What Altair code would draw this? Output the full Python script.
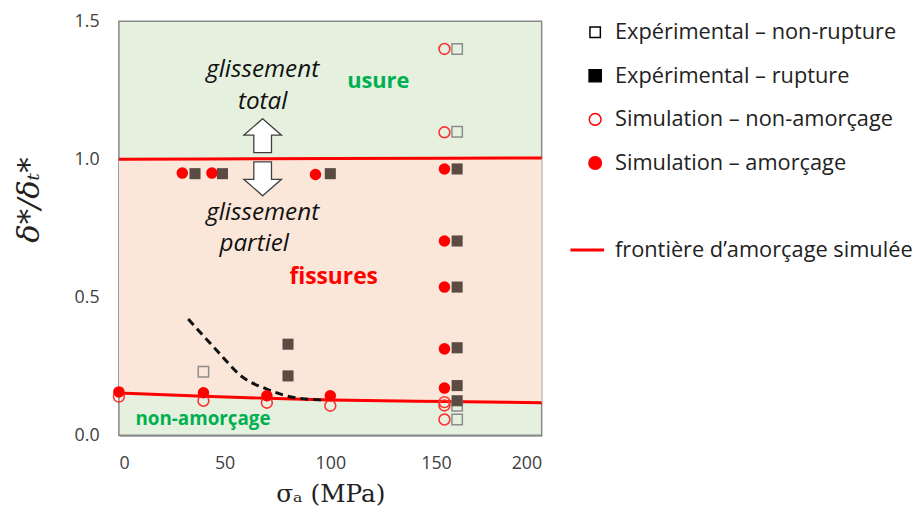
import altair as alt
import pandas as pd

# ---------------- data ----------------
# simulated crack-initiation boundary (lower) and gross-slip limit (upper)
bnd_x = [0, 40, 70, 100, 154, 200]
bnd_low = [0.153, 0.141, 0.134, 0.128, 0.122, 0.118]
bnd_up = [1.000, 1.001, 1.002, 1.003, 1.004, 1.005]

# dashed black curve
dash_x = [32.8, 46, 58.6, 69.7, 82, 96]
dash_y = [0.421, 0.31, 0.21, 0.168, 0.138, 0.128]

# Simulation – amorçage (filled red circles)
sim_am_x = [0, 30, 40, 44, 70, 93, 100, 154, 154, 154, 154, 154]
sim_am_y = [0.157, 0.95, 0.154, 0.95, 0.143, 0.945, 0.143, 0.965, 0.704, 0.537, 0.313, 0.171]

# Simulation – non-amorçage (open red circles)
sim_non_x = [0, 40, 70, 100, 154, 154, 154, 154, 154]
sim_non_y = [0.14, 0.125, 0.118, 0.107, 1.40, 1.098, 0.12, 0.108, 0.057]

# Expérimental – rupture (filled squares)
exp_rup_x = [36, 49, 80, 80, 100, 160, 160, 160, 160, 160, 160]
exp_rup_y = [0.948, 0.948, 0.33, 0.215, 0.948, 0.965, 0.704, 0.537, 0.317, 0.18, 0.125]

# Expérimental – non-rupture (open squares)
exp_non_x = [40, 160, 160, 160, 160]
exp_non_y = [0.23, 1.40, 1.10, 0.107, 0.057]

# annotations
ital_text = ["glissement", "total", "glissement", "partiel"]
ital_x = [68, 68, 68, 64]
ital_y = [1.325, 1.207, 0.804, 0.693]

green_text = ["usure", "non-amorçage"]
green_x = [122.7, 39.8]
green_y = [1.282, 0.057]
green_size = [22, 19]

red_text = ["fissures"]
red_x = [101.6]
red_y = [0.575]

arrow_x = [68, 68]
arrow_y = [1.086, 0.929]
arrow_dir = ["up", "down"]

# legend entries
leg_labels = ["Expérimental – non-rupture", "Expérimental – rupture",
              "Simulation – non-amorçage", "Simulation – amorçage"]
leg_rows = [0, 1, 2, 3]
leg_shape = ["square", "square", "circle", "circle"]
leg_fill = ["transparent", "#000000", "transparent", "#ff0000"]
leg_stroke = ["#000000", "#000000", "#ff0000", "#ff0000"]
leg_size = [110, 150, 140, 160]
line_label = ["frontière d’amorçage simulée"]
line_row = [5]

x_ticks = [0, 50, 100, 150, 200]
y_ticks = [0, 0.5, 1.0, 1.5]

# ---------------- chart ----------------
LABEL_FONT = "Open Sans"
xscale = alt.Scale(domain=[0, 200], nice=False, zero=False)
yscale = alt.Scale(domain=[0, 1.5], nice=False, zero=False)

X = alt.X("x:Q", scale=xscale,
          axis=alt.Axis(values=x_ticks, title="σₐ (MPa)", grid=False, ticks=False,
                        labelFont=LABEL_FONT, labelFontSize=18, labelColor="#404040",
                        labelPadding=20, domainColor="#595959", domainWidth=1.5,
                        titleFont="DejaVu Serif", titleFontSize=25, titleFontWeight="normal",
                        titleColor="#222222", titlePadding=9))
Y = alt.Y("y:Q", scale=yscale,
          axis=alt.Axis(values=y_ticks, format=".1f", title="δ*/δₜ*", grid=False, ticks=False,
                        labelFont=LABEL_FONT, labelFontSize=18, labelColor="#404040",
                        labelPadding=20, domainColor="#595959", domainWidth=1.5,
                        titleFont="DejaVu Serif", titleFontSize=31, titleFontWeight="normal",
                        titleFontStyle="italic", titleColor="#222222",
                        titleAngle=270, titleX=-90, titleY=180, titleAlign="center",
                        titleBaseline="middle"))
Xp = alt.X("x:Q", scale=xscale)
Yp = alt.Y("y:Q", scale=yscale)

bg = alt.Chart(pd.DataFrame({"x": [0], "x2": [200], "y": [0], "y2": [1.5]})).mark_rect(
    fill="#e6f0df", stroke="#8a8a8a", strokeWidth=1.5
).encode(x=X, x2="x2:Q", y=Y, y2="y2:Q")

bdf = pd.DataFrame({"x": bnd_x, "y": bnd_up, "y2": bnd_low})
band = alt.Chart(bdf).mark_area(color="#fbe6da", opacity=1).encode(x=Xp, y=Yp, y2="y2:Q")

low_line = alt.Chart(pd.DataFrame({"x": bnd_x, "y": bnd_low})).mark_line(
    color="#ff0000", strokeWidth=3, interpolate="monotone").encode(x=Xp, y=Yp)
up_line = alt.Chart(pd.DataFrame({"x": bnd_x, "y": bnd_up})).mark_line(
    color="#ff0000", strokeWidth=3).encode(x=Xp, y=Yp)

dash = alt.Chart(pd.DataFrame({"x": dash_x, "y": dash_y})).mark_line(
    color="#111111", strokeWidth=3, strokeDash=[8, 5], interpolate="monotone"
).encode(x=Xp, y=Yp)

p_sim_non = alt.Chart(pd.DataFrame({"x": sim_non_x, "y": sim_non_y})).mark_point(
    shape="circle", size=120, filled=False, stroke="#ff3030", strokeWidth=1.6, opacity=1
).encode(x=Xp, y=Yp)
p_exp_non = alt.Chart(pd.DataFrame({"x": exp_non_x, "y": exp_non_y})).mark_point(
    shape="square", size=110, filled=False, stroke="#8c8c8c", strokeWidth=1.5, opacity=1
).encode(x=Xp, y=Yp)
p_sim_am = alt.Chart(pd.DataFrame({"x": sim_am_x, "y": sim_am_y})).mark_point(
    shape="circle", size=135, filled=True, color="#ff0000", opacity=1
).encode(x=Xp, y=Yp)
p_exp_rup = alt.Chart(pd.DataFrame({"x": exp_rup_x, "y": exp_rup_y})).mark_point(
    shape="square", size=125, filled=True, color="#5a4c43", opacity=1
).encode(x=Xp, y=Yp)

UP = "M0,-0.9 L1,-0.02 L0.47,-0.02 L0.47,0.9 L-0.47,0.9 L-0.47,-0.02 L-1,-0.02 Z"
DOWN = "M0,0.9 L1,0.02 L0.47,0.02 L0.47,-0.9 L-0.47,-0.9 L-0.47,0.02 L-1,0.02 Z"
adf = pd.DataFrame({"x": arrow_x, "y": arrow_y, "dir": arrow_dir})
arrows = alt.Chart(adf).mark_point(
    size=1444, filled=True, fill="white", stroke="#404040", strokeWidth=1.3, opacity=1
).encode(x=Xp, y=Yp,
         shape=alt.Shape("dir:N", scale=alt.Scale(domain=["up", "down"], range=[UP, DOWN]),
                         legend=None))

t_ital = alt.Chart(pd.DataFrame({"x": ital_x, "y": ital_y, "t": ital_text})).mark_text(
    font=LABEL_FONT, fontSize=24.5, fontStyle="italic", color="#111111"
).encode(x=Xp, y=Yp, text="t:N")
t_green = alt.Chart(pd.DataFrame({"x": green_x, "y": green_y, "t": green_text,
                                  "s": green_size})).mark_text(
    font=LABEL_FONT, fontWeight="bold", color="#00b050"
).encode(x=Xp, y=Yp, text="t:N", size=alt.Size("s:Q", scale=None, legend=None))
t_red = alt.Chart(pd.DataFrame({"x": red_x, "y": red_y, "t": red_text})).mark_text(
    font=LABEL_FONT, fontSize=23, fontWeight="bold", color="#ff0000"
).encode(x=Xp, y=Yp, text="t:N")

main = alt.layer(bg, band, up_line, low_line, dash, p_exp_non, p_sim_non, p_exp_rup,
                 p_sim_am, arrows, t_ital, t_green, t_red).properties(width=427, height=418)

# ---------------- legend panel ----------------
lscale = alt.Scale(domain=[-0.25, 9.25], reverse=True, nice=False, zero=False)
LY = alt.Y("row:Q", scale=lscale, axis=None)
ldf = pd.DataFrame({"row": leg_rows, "label": leg_labels, "shape": leg_shape,
                    "fill": leg_fill, "stroke": leg_stroke, "s": leg_size})
leg_sym = alt.Chart(ldf).mark_point(strokeWidth=1.5, opacity=1).encode(
    x=alt.value(48), y=LY,
    shape=alt.Shape("shape:N", scale=None),
    fill=alt.Fill("fill:N", scale=None),
    stroke=alt.Stroke("stroke:N", scale=None),
    size=alt.Size("s:Q", scale=None, legend=None))
leg_txt = alt.Chart(ldf).mark_text(align="left", font=LABEL_FONT, fontSize=22,
                                   color="#222222").encode(
    x=alt.value(68), y=LY, text="label:N")
line_df = pd.DataFrame({"row": line_row, "label": line_label})
leg_line = alt.Chart(line_df).mark_rule(color="#ff0000", strokeWidth=3).encode(
    x=alt.value(23), x2=alt.value(57), y=LY)
leg_line_txt = alt.Chart(line_df).mark_text(align="left", font=LABEL_FONT, fontSize=22,
                                            color="#222222").encode(
    x=alt.value(68), y=LY, text="label:N")
legend = alt.layer(leg_sym, leg_txt, leg_line, leg_line_txt).properties(
    width=340, height=418)

chart = alt.hconcat(main, legend, spacing=0).properties(
    padding={"left": 6, "top": 2, "right": 0, "bottom": 0},
    background="white"
).configure_view(strokeWidth=0, stroke="transparent")

chart.save("out.html", embed_options={"renderer": "svg", "actions": False})
